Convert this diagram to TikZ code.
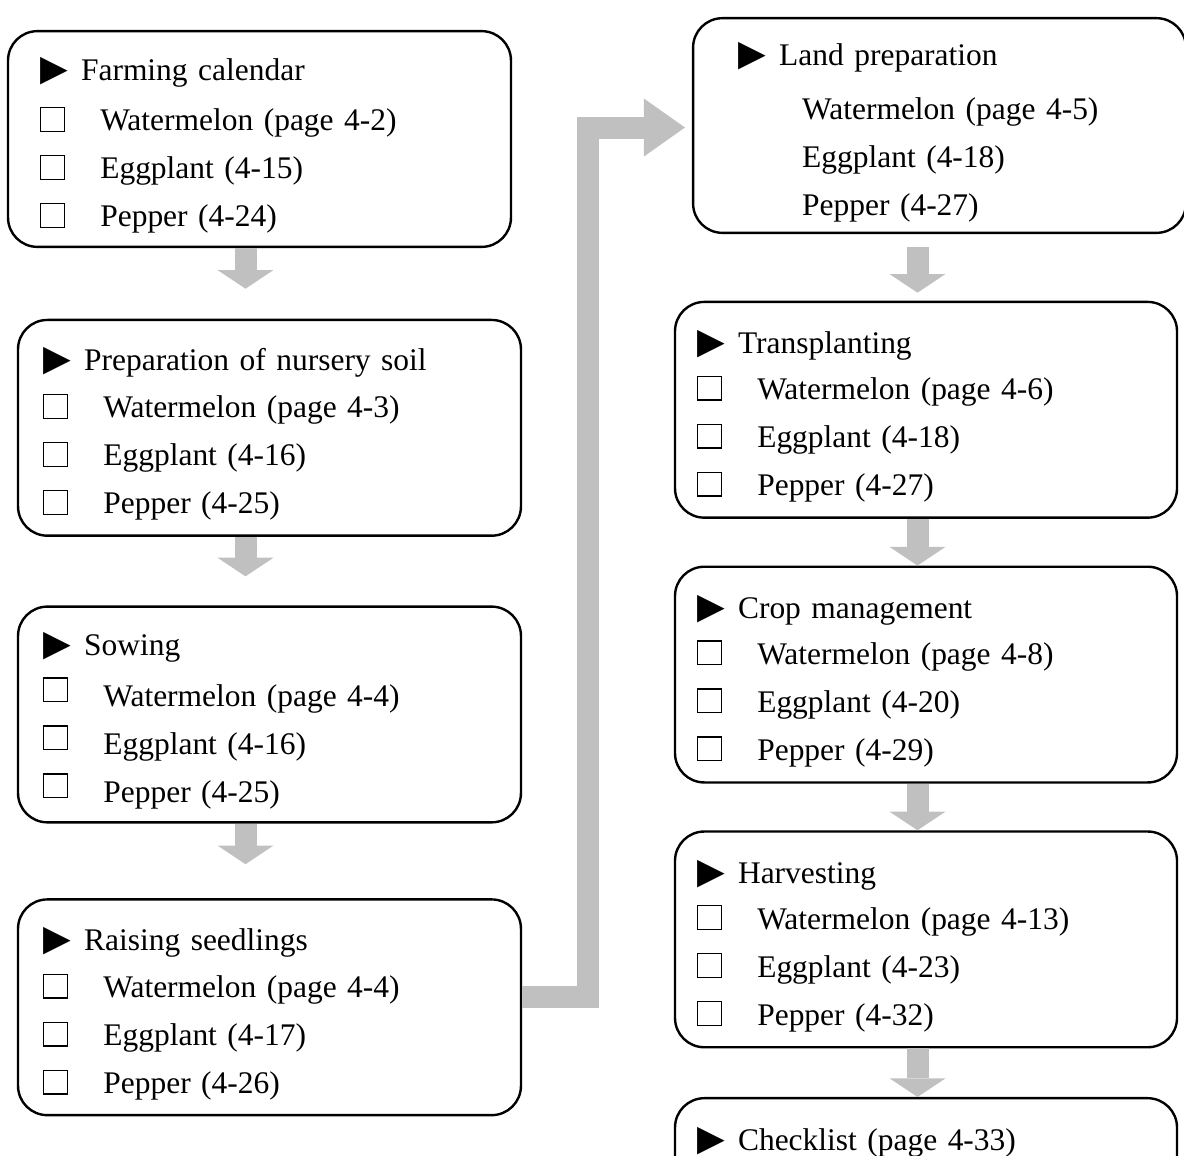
\documentclass[tikz,border=0pt]{standalone}
\usepackage{fontspec}
\setmainfont{Liberation Serif}
\newfontfamily\symfont{DejaVu Sans}
\usepackage{xcolor}
\usepackage{tikz}
\usetikzlibrary{positioning, arrows.meta}

\definecolor{arrowgray}{RGB}{192,192,192}
\setlength{\fboxsep}{0pt}
\setlength{\fboxrule}{0.45pt}
\newcommand{\stagemark}{\rule{0pt}{13.5pt}{\symfont\fontsize{13.5pt}{13.5pt}\selectfont ▶}\hspace{5pt}}
\newcommand{\cropbox}{\fbox{\rule{0pt}{8.5pt}\hspace{8.5pt}}\hspace{13.2pt}}
\newcommand{\upcropbox}{\raisebox{2pt}{\fbox{\rule{0pt}{8.5pt}\hspace{8.5pt}}}\hspace{13.2pt}}

\begin{document}
\begin{tikzpicture} [x=0.375pt, y=-0.375pt,
    stepbox/.style={draw, line width=0.9pt, rounded corners=11pt, align=left,
        font=\fontsize{11.8pt}{18pt}\selectfont, minimum height=80.9pt,
        inner xsep=9.4pt, text width=169.8pt},
    rightbox/.style={stepbox, inner xsep=8.25pt, text width=171.75pt},
    flow/.style={draw=arrowgray, line width=8.25pt,
        -{Triangle[width=21pt, length=7pt, line width=0pt]}}]

    \useasboundingbox (0,0) rectangle (1184,1155);
    \clip (0,0) rectangle (1184,1155);

    \node (b1) [stepbox, inner xsep=12pt, text width=164.6pt] at (259.5,139)
        {\stagemark Farming calendar\\[0.75pt] \cropbox Watermelon (page 4-2)\\
        \cropbox Eggplant (4-15)\\ \cropbox Pepper (4-24)};
    \node (b2) [stepbox, below=26.5pt of b1, xshift=3.75pt]
        {\stagemark Preparation of nursery soil\\[-0.4pt] \cropbox Watermelon (page 4-3)\\
        \cropbox Eggplant (4-16)\\ \cropbox Pepper (4-25)};
    \node (b3) [stepbox, below=25.7pt of b2]
        {\stagemark Sowing\\[1.1pt] \upcropbox Watermelon (page 4-4)\\
        \upcropbox Eggplant (4-16)\\ \upcropbox Pepper (4-25)};
    \node (b4) [stepbox, below=28pt of b3]
        {\stagemark Raising seedlings\\[-0.4pt] \cropbox Watermelon (page 4-4)\\
        \cropbox Eggplant (4-17)\\ \cropbox Pepper (4-26)};

    \node (b5) [stepbox, inner xsep=16.9pt, text width=151pt, minimum height=80.5pt]
        at (939.5,125.5)
        {\stagemark Land preparation\\[2.25pt] \hspace*{24pt}Watermelon (page 4-5)\\
        \hspace*{24pt}Eggplant (4-18)\\ \hspace*{24pt}Pepper (4-27)};
    \node (b6) [rightbox, below=25pt of b5, xshift=-5.06pt]
        {\stagemark Transplanting\\[-0.75pt] \cropbox Watermelon (page 4-6)\\
        \cropbox Eggplant (4-18)\\ \cropbox Pepper (4-27)};
    \node (b7) [rightbox, below=17.5pt of b6]
        {\stagemark Crop management\\[-0.75pt] \cropbox Watermelon (page 4-8)\\
        \cropbox Eggplant (4-20)\\ \cropbox Pepper (4-29)};
    \node (b8) [rightbox, below=17.5pt of b7]
        {\stagemark Harvesting\\[-0.75pt] \cropbox Watermelon (page 4-13)\\
        \cropbox Eggplant (4-23)\\ \cropbox Pepper (4-32)};
    \node (b9) [rightbox, below=18.2pt of b8, minimum height=0pt,
        text height=16.2pt, text depth=60pt]
        {\stagemark Checklist (page 4-33)};

    \draw [flow, shorten >=11.25pt] (b1.south -| 245.5,0) -- (b2.north -| 245.5,0);
    \draw [flow, shorten >=10.9pt] (b2.south -| 245.5,0) -- (b3.north -| 245.5,0);
    \draw [flow, shorten >=12.75pt] (b3.south -| 245.5,0) -- (b4.north -| 245.5,0);
    \draw [flow, -{Triangle[width=21.75pt, length=15.4pt, line width=0pt]},
        line join=miter, shorten >=2.6pt]
        (b4.east |- 0,996.5) -| (588,127.5) -- (b5.west |- 0,127.5);

    \draw [flow, shorten <=4.9pt, shorten >=3pt] (b5.south -| 917.5,0) -- (b6.north -| 917.5,0);
    \draw [flow] (b6.south -| 917.5,0) -- (b7.north -| 917.5,0);
    \draw [flow] (b7.south -| 917.5,0) -- (b8.north -| 917.5,0);
    \draw [flow] (b8.south -| 917.5,0) -- (b9.north -| 917.5,0);
\end{tikzpicture}
\end{document}
